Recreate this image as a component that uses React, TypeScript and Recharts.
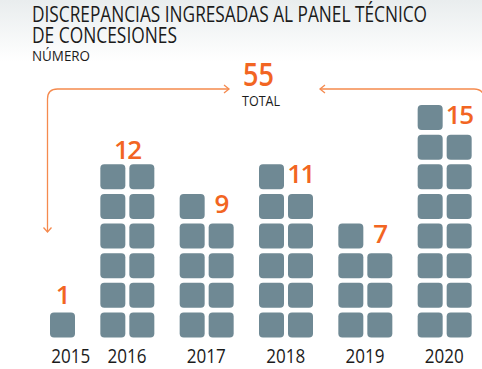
import { BarChart, Bar, XAxis, YAxis, LabelList } from 'recharts'

const YEARS = ['2015', '2016', '2017', '2018', '2019', '2020']
const TOTALS = [1, 12, 9, 11, 7, 15]
// squares stacked in each of the two columns per year
const LEFT_COL = [0, 6, 5, 6, 4, 8]
const RIGHT_COL = [1, 6, 4, 5, 3, 7]

const data = YEARS.map((year, i) => ({
  year,
  total: TOTALS[i],
  left: LEFT_COL[i],
  right: RIGHT_COL[i],
}))

const SQUARE = '#6f8994'
const ORANGE = '#f26522'
const LINE = '#f58a4e'
const TEXT = '#1b1b1b'
const BAR_SIZE = 25
const BAR_GAP = 4

function UnitStack(props: any) {
  const { x, y, width, height, value } = props
  const count = Array.isArray(value) ? value[1] - value[0] : value
  if (!count || height <= 0) return null
  const pitch = height / count
  const squares = []
  for (let i = 0; i < count; i++) {
    squares.push(
      <rect key={i} x={x} y={y + i * pitch} width={width} height={width} rx={4} ry={4} fill={SQUARE} />
    )
  }
  return <g>{squares}</g>
}

function TotalLabel(props: any) {
  const { x, y, width, height, index } = props
  const left = LEFT_COL[index]
  const right = RIGHT_COL[index]
  const pitch = height / right
  let cx = x + width / 2
  let by = y - 8
  if (left > right) {
    // odd count: number sits in the empty slot next to the top square
    by = y - pitch + 19
  } else if (left === right) {
    cx = x - BAR_GAP / 2
    by = y - 5
  }
  return (
    <text x={cx} y={by} textAnchor="middle" fill={ORANGE} fontSize={26} fontWeight={600}
      fontFamily="'Open Sans', sans-serif" letterSpacing={-1.5}>
      {TOTALS[index]}
    </text>
  )
}

function YearTick(props: any) {
  const { x, y, payload, index } = props
  const dx = index === 0 ? 23 : 0
  return (
    <text x={x + dx} y={y} dy={21} textAnchor="middle" fill={TEXT} fontSize={20}
      fontFamily="'Open Sans', sans-serif" textLength={39} lengthAdjust="spacingAndGlyphs">
      {payload.value}
    </text>
  )
}

export default function App() {
  const total = TOTALS.reduce((a, b) => a + b, 0)
  return (
    <div style={{
      position: 'absolute', left: 0, top: 0, width: 482, height: 369, overflow: 'hidden',
      background: 'linear-gradient(to bottom, #e9edee 0px, #ffffff 62px)',
    }}>
      <svg width={482} height={369} style={{ position: 'absolute', left: 0, top: 0 }}>
        <g fontFamily="'Open Sans', sans-serif" fill={TEXT}>
          <text x={32} y={22} fontSize={21} textLength={395} lengthAdjust="spacingAndGlyphs">
            DISCREPANCIAS INGRESADAS AL PANEL TÉCNICO
          </text>
          <text x={32} y={43} fontSize={21} textLength={145} lengthAdjust="spacingAndGlyphs">
            DE CONCESIONES
          </text>
          <text x={32} y={61} fontSize={15} textLength={58} lengthAdjust="spacingAndGlyphs">
            NÚMERO
          </text>
          <text x={243} y={86} fontSize={32} fontWeight={600} fill={ORANGE} textLength={31}
            lengthAdjust="spacingAndGlyphs">
            {total}
          </text>
          <text x={242} y={106} fontSize={15} textLength={38} lengthAdjust="spacingAndGlyphs">
            TOTAL
          </text>
        </g>
        <g fill="none" stroke={LINE} strokeWidth={1.3}>
          <path d="M 229 89 H 57.5 Q 47.5 89 47.5 99 V 232" />
          <path d="M 224 85 L 229 89 L 224 93" />
          <path d="M 43.5 227.5 L 47.5 232 L 51.5 227.5" />
          <path d="M 320 89 H 474 Q 484 89 484 99 V 369" />
          <path d="M 325 85 L 320 89 L 325 93" />
        </g>
      </svg>
      <div style={{ position: 'absolute', left: 0, top: 0 }}>
        <BarChart width={484} height={369} data={data} barSize={BAR_SIZE} barGap={BAR_GAP}
          margin={{ top: 105, right: 0, left: 8, bottom: 0 }}>
          <XAxis dataKey="year" height={27} axisLine={false} tickLine={false} tickSize={0}
            tickMargin={0} interval={0} tick={<YearTick />} />
          <YAxis hide domain={[0, 8]} />
          <Bar dataKey="left" fill={SQUARE} shape={<UnitStack />} isAnimationActive={false} />
          <Bar dataKey="right" fill={SQUARE} shape={<UnitStack />} isAnimationActive={false}>
            <LabelList dataKey="total" content={<TotalLabel />} />
          </Bar>
        </BarChart>
      </div>
    </div>
  )
}
